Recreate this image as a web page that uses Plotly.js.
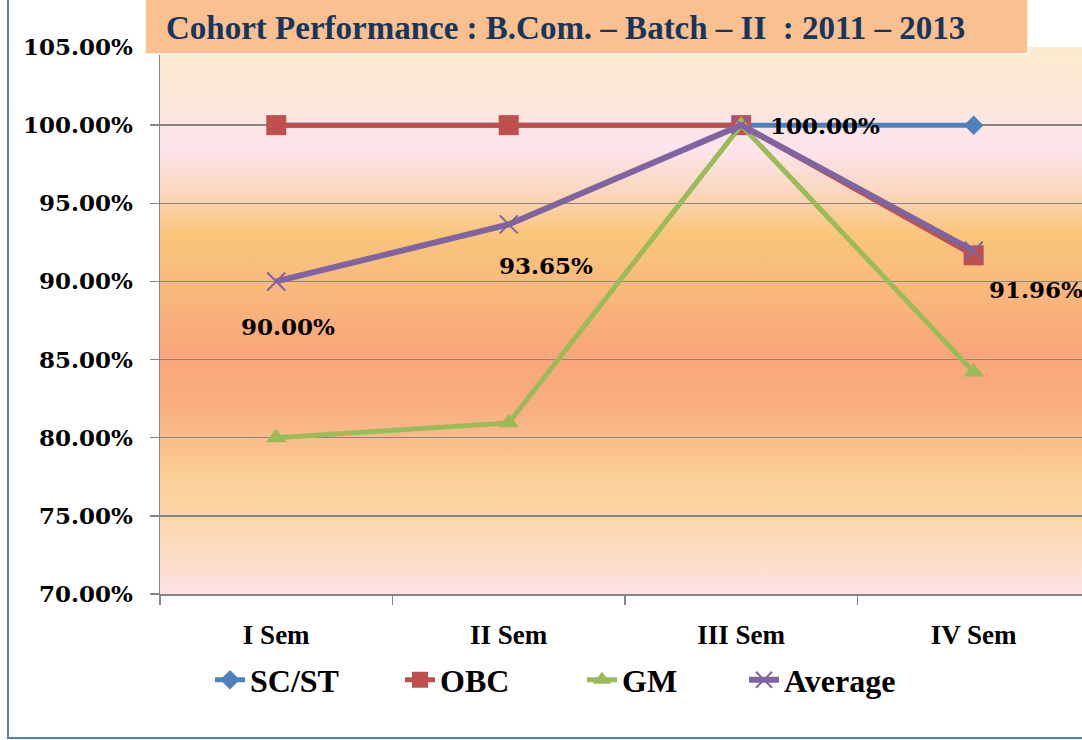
<!DOCTYPE html>
<html>
<head>
<meta charset="utf-8">
<script src="https://cdn.plot.ly/plotly-3.0.1.min.js"></script>
<style>html,body{margin:0;padding:0;background:#fff;overflow:hidden}</style>
</head>
<body>
<div id="chart" style="width:1082px;height:740px"></div>
<script>
// ---- data ----
const categories = ["I Sem", "II Sem", "III Sem", "IV Sem"];
const seriesNames = ["SC/ST", "OBC", "GM", "Average"];
const scst = [1.0, 1.0, 1.0, 1.0];
const obc = [1.0, 1.0, 1.0, 0.9167];
const gm = [0.80, 0.8095, 1.0, 0.8421];
const average = [0.90, 0.9365, 1.0, 0.9196];
const yTickVals = [0.70, 0.75, 0.80, 0.85, 0.90, 0.95, 1.00, 1.05];
const chartTitle = "Cohort Performance : B.Com. \u2013 Batch \u2013 II  : 2011 \u2013 2013";

// ---- styles ----
const colors = ["#4F81BD", "#C0504D", "#9BBB59", "#8064A2"];
const symbols = ["diamond", "square", "triangle-up", "x-thin-open"];
const markerSizes = [15, 20, 18, 18];
const lineWidths = [5, 5, 5, 6];
const labelOffsets = [[12, -45], [37, -41], [27, 0], [62, -39]];
const labelAnchors = ["center", "center", "left", "center"];
const legendTextStart = [250, 440, 622, 784];

const W = 1082, H = 740, ML = 160, MR = 0, MT = 47, MB = 146;
const PW = W - ML - MR, PH = H - MT - MB;
const px = x => (x - ML) / PW;
const py = y => (H - MB - y) / PH;

const gradSvg = '<svg xmlns="http://www.w3.org/2000/svg" width="100" height="547" preserveAspectRatio="none">' +
  '<defs><linearGradient id="g" x1="0" y1="0" x2="0" y2="1">' +
  '<stop offset="0" stop-color="#FCEBCF"/>' +
  '<stop offset="0.10" stop-color="#FCE7DA"/>' +
  '<stop offset="0.185" stop-color="#FDE4EE"/>' +
  '<stop offset="0.27" stop-color="#FAD6BA"/>' +
  '<stop offset="0.34" stop-color="#F9C67A"/>' +
  '<stop offset="0.43" stop-color="#F9BA7D"/>' +
  '<stop offset="0.56" stop-color="#F9A67A"/>' +
  '<stop offset="0.66" stop-color="#F9AE80"/>' +
  '<stop offset="0.79" stop-color="#FBCF98"/>' +
  '<stop offset="0.86" stop-color="#FBD7A8"/>' +
  '<stop offset="1" stop-color="#FDE2E4"/>' +
  '</linearGradient></defs><rect x="0" y="0" width="100" height="547" fill="url(#g)"/></svg>';

const legendIds = ["legend", "legend2", "legend3", "legend4"];
const allSeries = [scst, obc, gm, average];
const traces = allSeries.map((vals, i) => ({
  type: "scatter",
  mode: "lines+markers",
  name: seriesNames[i],
  legend: legendIds[i],
  x: categories,
  y: vals,
  line: {color: colors[i], width: lineWidths[i]},
  marker: {
    symbol: symbols[i],
    size: markerSizes[i],
    color: colors[i],
    line: {color: colors[i], width: i === 3 ? 2 : 0}
  },
  hoverinfo: "x+y"
}));

const annotations = average.map((v, i) => ({
  x: categories[i], y: v, xref: "x", yref: "y",
  text: (v * 100).toFixed(2) + "%",
  showarrow: false,
  xanchor: labelAnchors[i], yanchor: "middle",
  xshift: labelOffsets[i][0], yshift: labelOffsets[i][1],
  font: {family: "DejaVu Serif", size: 23, color: "#000", weight: 700}
}));
annotations.push({
  xref: "paper", yref: "paper", x: px(164), y: py(28),
  xanchor: "left", yanchor: "middle", showarrow: false,
  text: chartTitle,
  font: {family: "Liberation Serif", size: 33, color: "#17365D", weight: 700}
});

const layout = {
  width: W, height: H,
  margin: {l: ML, r: MR, t: MT, b: MB, pad: 0},
  paper_bgcolor: "#FFFFFF",
  plot_bgcolor: "rgba(0,0,0,0)",
  showlegend: true,
  xaxis: {
    type: "category",
    range: [-0.5, 3.466],
    showgrid: false, zeroline: false,
    showline: true, linecolor: "#868686", linewidth: 1.5,
    ticks: "outside", tickson: "boundaries", ticklen: 9, tickcolor: "#868686", tickwidth: 1.5,
    ticklabelstandoff: 16,
    tickfont: {family: "Liberation Serif", size: 27, color: "#000", weight: 700},
    fixedrange: true
  },
  yaxis: {
    range: [0.70, 1.05],
    tickvals: yTickVals,
    tickformat: ".2%",
    showgrid: true, gridcolor: "#868686", gridwidth: 1.5,
    zeroline: false,
    showline: true, linecolor: "#868686", linewidth: 1.5,
    ticks: "outside", ticklen: 9, tickcolor: "#868686", tickwidth: 1.5,
    ticklabelstandoff: 12,
    tickfont: {family: "DejaVu Serif", size: 23, color: "#000", weight: 700},
    fixedrange: true
  },
  images: [{
    source: "data:image/svg+xml;charset=utf-8," + encodeURIComponent(gradSvg),
    xref: "paper", yref: "paper", x: 0, y: 1, sizex: 1, sizey: 1,
    xanchor: "left", yanchor: "top", sizing: "stretch", layer: "below"
  }],
  shapes: [
    {type: "rect", xref: "paper", yref: "paper", layer: "below",
     x0: px(8), x1: px(1095), y0: py(738), y1: py(-10),
     line: {color: "#4F81BD", width: 2}, fillcolor: "rgba(0,0,0,0)"},
    {type: "rect", xref: "paper", yref: "paper", layer: "above",
     x0: px(145), x1: px(1028), y0: py(54), y1: py(-3),
     line: {color: "#FFFFFF", width: 1.5}, fillcolor: "#FAC090"}
  ],
  annotations: annotations
};
legendIds.forEach((id, i) => {
  layout[id] = {
    orientation: "h", x: px(legendTextStart[i] - 40), y: py(680),
    xanchor: "left", yanchor: "middle",
    font: {family: "Liberation Serif", size: 32, color: "#000", weight: 700},
    bgcolor: "rgba(0,0,0,0)", borderwidth: 0
  };
});

Plotly.newPlot("chart", traces, layout, {displayModeBar: false, staticPlot: true});
</script>
</body>
</html>
